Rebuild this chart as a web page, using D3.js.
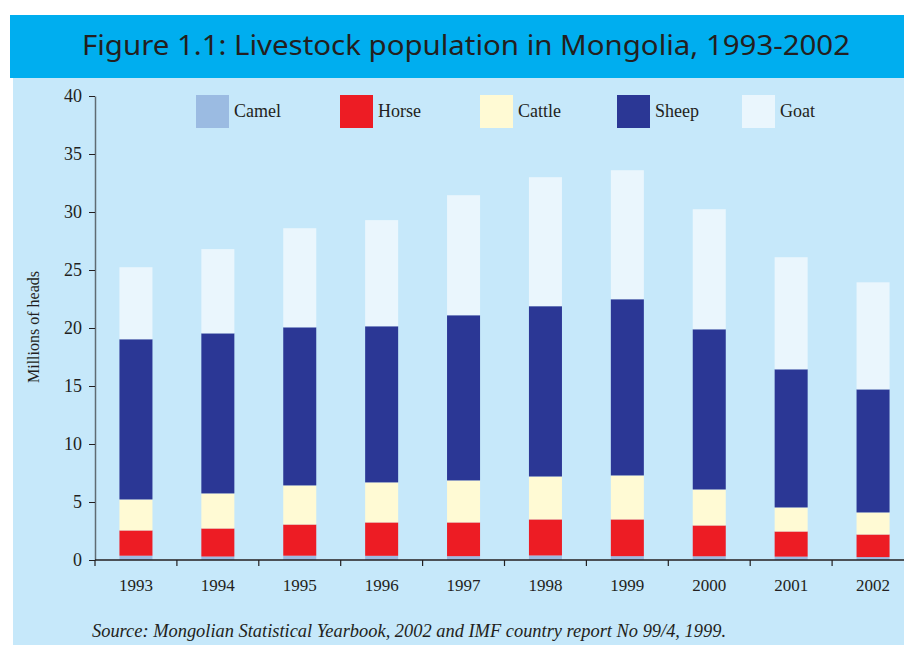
<!DOCTYPE html>
<html>
<head>
<meta charset="utf-8">
<script src="https://cdn.jsdelivr.net/npm/d3@7"></script>
<style>
  body { margin: 0; background: #fff; }
  svg { display: block; }
</style>
</head>
<body>
<svg id="chart" width="904" height="645"></svg>
<script>
// livestock counts, millions of heads
var years  = ["1993", "1994", "1995", "1996", "1997", "1998", "1999", "2000", "2001", "2002"];
var camel  = [0.37, 0.30, 0.37, 0.36, 0.33, 0.39, 0.33, 0.32, 0.29, 0.25];
var horse  = [2.18, 2.42, 2.69, 2.88, 2.91, 3.11, 3.17, 2.66, 2.17, 1.95];
var cattle = [2.67, 3.02, 3.37, 3.45, 3.62, 3.70, 3.79, 3.10, 2.07, 1.90];
var sheep  = [13.81, 13.80, 13.63, 13.46, 14.24, 14.68, 15.19, 13.81, 11.91, 10.61];
var goat   = [6.21, 7.26, 8.54, 9.15, 10.35, 11.12, 11.12, 10.35, 9.66, 9.23];
var seriesNames = ["Camel", "Horse", "Cattle", "Sheep", "Goat"];
var yTicks = [0, 5, 10, 15, 20, 25, 30, 35, 40];

var colors = {
    Camel: "#9bbbe2",
    Horse: "#ed1c24",
    Cattle: "#fffad4",
    Sheep: "#2b3795",
    Goat: "#eaf6fd"
};

var svg = d3.select("#chart");

// title bar + panel
svg.append("rect").attr("x", 10).attr("y", 15).attr("width", 894).attr("height", 63).attr("fill", "#00aeef");
svg.append("rect").attr("x", 13).attr("y", 78).attr("width", 891).attr("height", 567).attr("fill", "#c6e8fa");

svg.append("text")
    .attr("x", 466).attr("y", 55)
    .attr("text-anchor", "middle")
    .attr("font-family", "'Noto Sans', 'Open Sans', sans-serif")
    .attr("font-size", 27)
    .attr("fill", "#231f20")
    .attr("textLength", 768)
    .attr("lengthAdjust", "spacingAndGlyphs")
    .text("Figure 1.1: Livestock population in Mongolia, 1993-2002");

var plotLeft = 95, plotRight = 914, plotTop = 96, plotBottom = 560;

var x = d3.scaleBand()
    .domain(years)
    .range([plotLeft, plotRight])
    .paddingInner(0.597)
    .paddingOuter(0.597 / 2);

var y = d3.scaleLinear().domain([0, 40]).range([plotBottom, plotTop]);

var table = years.map(function(yr, i) {
    return { year: yr, Camel: camel[i], Horse: horse[i], Cattle: cattle[i], Sheep: sheep[i], Goat: goat[i] };
});
var stacked = d3.stack().keys(seriesNames)(table);

svg.append("g").selectAll("g")
    .data(stacked)
    .enter().append("g")
      .attr("fill", function(d) { return colors[d.key]; })
    .selectAll("rect")
    .data(function(d) { return d; })
    .enter().append("rect")
      .attr("x", function(d) { return x(d.data.year); })
      .attr("y", function(d) { return y(d[1]); })
      .attr("width", x.bandwidth())
      .attr("height", function(d) { return y(d[0]) - y(d[1]); });

var font = "'Liberation Serif', 'Times New Roman', serif";

// y axis
var yAxis = svg.append("g")
    .attr("transform", "translate(" + plotLeft + ",0)")
    .attr("font-family", font)
    .call(d3.axisLeft(y).tickValues(yTicks).tickSize(6).tickSizeOuter(0).tickPadding(7));
yAxis.select(".domain").attr("stroke", "#5f6b73").attr("stroke-width", 1.5);
yAxis.selectAll(".tick line").attr("stroke", "#231f20");
yAxis.selectAll("text").attr("font-family", font).attr("font-size", 18).attr("fill", "#231f20");

// x axis: line + ticks at band edges, labels at band centres
svg.append("line")
    .attr("x1", plotLeft).attr("x2", plotRight)
    .attr("y1", y(0)).attr("y2", y(0))
    .attr("stroke", "#231f20").attr("stroke-width", 1.5);

var edges = d3.range(years.length + 1).map(function(i) { return plotLeft + i * x.step(); });
svg.append("g").selectAll("line")
    .data(edges)
    .enter().append("line")
      .attr("x1", function(d) { return d; }).attr("x2", function(d) { return d; })
      .attr("y1", y(0)).attr("y2", y(0) + 6)
      .attr("stroke", "#231f20").attr("stroke-width", 1.2);

svg.append("g").selectAll("text")
    .data(years)
    .enter().append("text")
      .attr("x", function(d) { return x(d) + x.bandwidth() / 2; })
      .attr("y", 591)
      .attr("text-anchor", "middle")
      .attr("font-family", font).attr("font-size", 17).attr("fill", "#231f20")
      .text(function(d) { return d; });

svg.append("text")
    .attr("transform", "translate(39,327) rotate(-90)")
    .attr("text-anchor", "middle")
    .attr("font-family", font).attr("font-size", 16).attr("fill", "#231f20")
    .text("Millions of heads");

// legend
var legendX = [196, 340, 480, 617, 742];
var legend = svg.append("g").selectAll("g")
    .data(seriesNames)
    .enter().append("g")
      .attr("transform", function(d, i) { return "translate(" + legendX[i] + ",95)"; });
legend.append("rect")
    .attr("width", 33).attr("height", 33)
    .attr("fill", function(d) { return colors[d]; });
legend.append("text")
    .attr("x", 38).attr("y", 22)
    .attr("font-family", font).attr("font-size", 18).attr("fill", "#231f20")
    .text(function(d) { return d; });

svg.append("text")
    .attr("x", 92).attr("y", 637)
    .attr("font-family", font).attr("font-style", "italic")
    .attr("font-size", 18).attr("fill", "#231f20")
    .attr("textLength", 634)
    .attr("lengthAdjust", "spacingAndGlyphs")
    .text("Source: Mongolian Statistical Yearbook, 2002 and IMF country report No 99/4, 1999.");
</script>
</body>
</html>
